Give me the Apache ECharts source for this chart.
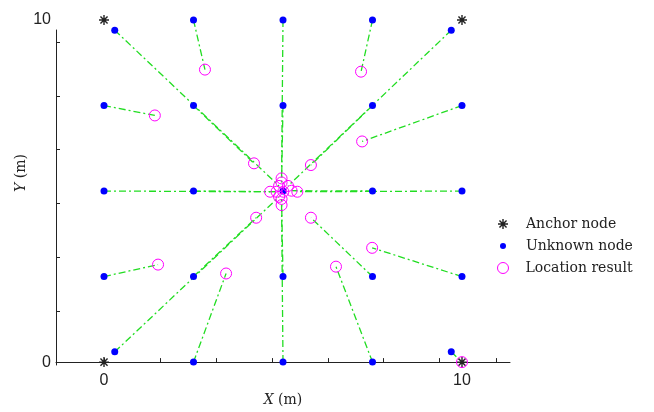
<!DOCTYPE html>
<html>
<head>
<meta charset="utf-8">
<script src="https://cdn.jsdelivr.net/npm/echarts@6/dist/echarts.min.js"></script>
<style>html,body{margin:0;padding:0;background:#fff}#c{width:654px;height:412px}</style>
</head>
<body>
<div id="c"></div>
<script>
// ---- data ----
const xTickValues = [0, 1.564, 3.128, 4.693, 6.257, 7.793, 9.358, 10.95];
const yTickValues = [1.57, 3.11, 4.68, 6.25, 7.79, 9.34];
const axisLabelValues = [0, 10];

const anchorX = [0, 0, 10, 10];
const anchorY = [0, 10, 0, 10];

const unknownX = [0.3, 2.5, 5, 7.5, 9.7,
                  0, 2.5, 5, 7.5, 10,
                  0, 2.5, 5, 7.5, 10,
                  0, 2.5, 5, 7.5, 10,
                  0.3, 2.5, 5, 7.5, 9.7];
const unknownY = [9.7, 10, 10, 10, 9.7,
                  7.5, 7.5, 7.5, 7.5, 7.5,
                  5, 5, 5, 5, 5,
                  2.5, 2.5, 2.5, 2.5, 2.5,
                  0.3, 0, 0, 0, 0.3];

const resultX = [4.89, 2.82, 4.96, 7.18, 5.14,
                 1.42, 4.19, 4.96, 5.78, 7.21,
                 4.64, 4.82, 5.01, 5.24, 5.40,
                 1.51, 4.25, 4.96, 5.78, 7.49,
                 4.89, 3.41, 4.96, 6.48, 10];
const resultY = [5.15, 8.55, 5.37, 8.49, 5.15,
                 7.21, 5.81, 5.25, 5.76, 6.45,
                 4.98, 4.98, 4.98, 5.01, 4.98,
                 2.85, 4.22, 4.77, 4.22, 3.34,
                 4.83, 2.59, 4.59, 2.79, 0];

const seriesNames = ['Anchor node', 'Unknown node', 'Location result'];

// ---- build ----
const asterisk = 'path://M-0.7,-5 L0.7,-5 L0.7,5 L-0.7,5 Z M-5,-0.7 L5,-0.7 L5,0.7 L-5,0.7 Z ' +
  'M-3.04,-4.04 L4.04,3.04 L3.04,4.04 L-4.04,-3.04 Z M-3.04,4.04 L-4.04,3.04 L3.04,-4.04 L4.04,-3.04 Z';

const anchors = anchorX.map((x, i) => [x, anchorY[i]]);
const unknowns = unknownX.map((x, i) => [x, unknownY[i]]);
const results = resultX.map((x, i) => [x, resultY[i]]);
const links = unknowns.map((p, i) => ({ coords: [p, results[i]] }));

const sansLabel = { fontFamily: 'Liberation Sans', fontSize: 16, color: '#222' };
const serif = 'DejaVu Serif';

const chart = echarts.init(document.getElementById('c'), null, { renderer: 'canvas' });
chart.setOption({
  animation: false,
  backgroundColor: '#fff',
  grid: [
    { left: 56, right: 144, top: 20, bottom: 47 },
    { left: 56, right: 144, top: 30, bottom: 47 }
  ],
  xAxis: [
    {
      type: 'value', gridIndex: 0, min: -1.341, max: 11.341,
      splitLine: { show: false },
      axisLine: { show: true, onZero: false, lineStyle: { color: '#222', width: 1 } },
      axisTick: { show: true, inside: true, length: 4, customValues: xTickValues, lineStyle: { color: '#222' } },
      axisLabel: Object.assign({ customValues: axisLabelValues, margin: 10 }, sansLabel),
      name: '{i|X} (m)', nameLocation: 'middle', nameGap: 28,
      nameTextStyle: { fontFamily: serif, fontSize: 14, color: '#222', rich: { i: { fontFamily: serif, fontSize: 14, fontStyle: 'italic', color: '#222' } } }
    },
    {
      type: 'value', gridIndex: 1, min: -1.341, max: 11.341, show: false
    }
  ],
  yAxis: [
    {
      type: 'value', gridIndex: 0, min: 0, max: 10,
      splitLine: { show: false },
      axisLine: { show: false },
      axisTick: { show: false },
      axisLabel: Object.assign({ customValues: axisLabelValues, margin: 5 }, sansLabel)
    },
    {
      type: 'value', gridIndex: 1, min: 0, max: 9.709,
      splitLine: { show: false },
      axisLine: { show: true, onZero: false, lineStyle: { color: '#222', width: 1 } },
      axisTick: { show: true, inside: true, length: 4, customValues: yTickValues, lineStyle: { color: '#222' } },
      axisLabel: { show: false }
    }
  ],
  graphic: [{
    type: 'text', x: 21, y: 173, rotation: Math.PI / 2,
    style: {
      text: '{i|Y} (m)', fontFamily: serif, fontSize: 14, fill: '#222',
      align: 'center', verticalAlign: 'middle',
      rich: { i: { fontFamily: serif, fontSize: 14, fontStyle: 'italic', color: '#222' } }
    }
  }],
  legend: [
    {
      data: [{ name: seriesNames[0], icon: asterisk }], left: 498, top: 217, padding: 0,
      itemWidth: 10, itemHeight: 10, selectedMode: false,
      textStyle: { fontFamily: serif, fontSize: 14, color: '#222', padding: [0, 0, 0, 13] }
    },
    {
      data: [{ name: seriesNames[1], icon: 'circle' }], left: 500, top: 239, padding: 0,
      itemWidth: 6, itemHeight: 6, selectedMode: false,
      textStyle: { fontFamily: serif, fontSize: 14, color: '#222', padding: [0, 0, 0, 15] }
    },
    {
      data: [{ name: seriesNames[2], icon: 'circle' }], left: 497, top: 261, padding: 0,
      itemWidth: 11, itemHeight: 11, selectedMode: false,
      itemStyle: { color: 'rgba(255,255,255,0)', borderColor: '#ff00ff', borderWidth: 1 },
      textStyle: { fontFamily: serif, fontSize: 14, color: '#222', padding: [0, 0, 0, 12] }
    }
  ],
  series: [
    {
      type: 'lines', coordinateSystem: 'cartesian2d', xAxisIndex: 0, yAxisIndex: 0,
      data: links, silent: true, z: 1,
      lineStyle: { color: '#22dd22', width: 1.3, type: [7, 3, 2, 3], opacity: 1 }
    },
    {
      name: seriesNames[0], type: 'scatter', xAxisIndex: 0, yAxisIndex: 0, clip: false,
      data: anchors, symbol: asterisk, symbolSize: 10, z: 3,
      itemStyle: { color: '#222', opacity: 1 }
    },
    {
      name: seriesNames[1], type: 'scatter', xAxisIndex: 0, yAxisIndex: 0, clip: false,
      data: unknowns, symbol: 'circle', symbolSize: 7, z: 4,
      itemStyle: { color: '#0000ff', opacity: 1 }
    },
    {
      name: seriesNames[2], type: 'scatter', xAxisIndex: 0, yAxisIndex: 0, clip: false,
      data: results, symbol: 'circle', symbolSize: 11, z: 5,
      itemStyle: { color: 'rgba(255,255,255,0)', borderColor: '#ff00ff', borderWidth: 1, opacity: 1 }
    }
  ]
});
</script>
</body>
</html>
